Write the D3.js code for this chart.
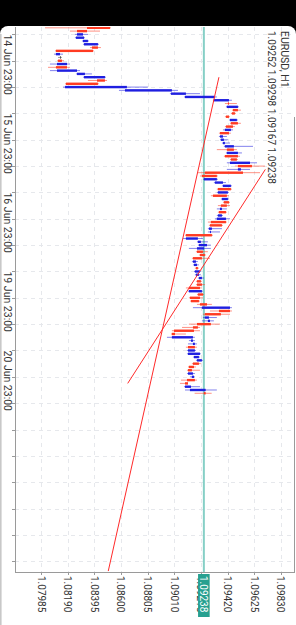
<!DOCTYPE html>
<html><head><meta charset="utf-8">
<script src="https://cdn.jsdelivr.net/npm/d3@7"></script>
<style>
html,body{margin:0;padding:0;background:#000;overflow:hidden}
svg{display:block;font-family:Roboto,"Noto Sans",sans-serif}
</style></head><body>
<svg id="chart"></svg>
<script>
// EURUSD H1, drawn rotated (time runs down the screen, price grows to the right)
const symbol='EURUSD, H1';
const firstBar=-2; // bar 0 = 14 Jun 23:00
const timeLabels=['14 Jun 23:00','15 Jun 23:00','16 Jun 23:00','19 Jun 23:00','20 Jun 23:00'];
const timeLabelBars=[0,24,48,72,96];
const priceTicks=[1.07985,1.08190,1.08395,1.08600,1.08805,1.09010,1.09215,1.09420,1.09625,1.09830];
const lastPrice=1.09238;
const opens=[1.08516,1.08339,1.08262,1.08254,1.08308,1.08316,1.08423,1.08385,1.08100,1.08131,1.08146,1.08108,1.08185,1.08108,1.08262,1.08316,1.08477,1.08423,1.08170,1.08631,
1.08985,1.09093,1.09315,1.09431,1.09415,1.09500,1.09477,1.09431,1.09439,1.09500,1.09462,1.09400,1.09431,1.09362,1.09369,1.09385,1.09400,1.09469,1.09415,1.09500,
1.09492,1.09439,1.09608,1.09500,1.09539,1.09338,1.09239,1.09323,1.09385,1.09446,1.09346,1.09415,1.09377,1.09431,1.09415,1.09362,1.09408,1.09346,1.09338,1.09408,
1.09377,1.09277,1.09285,1.09300,1.09100,1.09192,1.09200,1.09185,1.09231,1.09246,1.09223,1.09154,1.09162,1.09192,1.09169,1.09177,1.09200,1.09215,1.09223,1.09208,
1.09123,1.09231,1.09208,1.09200,1.09262,1.09223,1.09439,1.09369,1.09246,1.09269,1.09292,1.09192,1.09162,1.09016,1.08992,1.09139,1.09154,1.09169,1.09116,1.09116,
1.09162,1.09185,1.09200,1.09162,1.09146,1.09116,1.09146,1.09169,1.09116,1.09093,1.09131,1.09252];
const highs=[1.08523,1.08439,1.08346,1.08323,1.08354,1.08431,1.08446,1.08393,1.08154,1.08146,1.08162,1.08208,1.08208,1.08285,1.08377,1.08485,1.08493,1.08431,1.08808,1.09039,
1.09208,1.09338,1.09454,1.09492,1.09508,1.09523,1.09485,1.09439,1.09500,1.09523,1.09477,1.09462,1.09446,1.09415,1.09423,1.09439,1.09616,1.09492,1.09531,1.09516,
1.09500,1.09647,1.09708,1.09593,1.09670,1.09346,1.09346,1.09408,1.09454,1.09454,1.09431,1.09431,1.09431,1.09439,1.09439,1.09415,1.09415,1.09385,1.09439,1.09415,
1.09385,1.09377,1.09362,1.09308,1.09231,1.09269,1.09292,1.09292,1.09269,1.09254,1.09285,1.09192,1.09200,1.09200,1.09215,1.09215,1.09239,1.09223,1.09246,1.09223,
1.09231,1.09239,1.09231,1.09208,1.09300,1.09454,1.09454,1.09439,1.09338,1.09315,1.09362,1.09208,1.09208,1.09100,1.09169,1.09169,1.09185,1.09185,1.09177,1.09215,
1.09208,1.09231,1.09215,1.09177,1.09208,1.09169,1.09169,1.09185,1.09116,1.09208,1.09338,1.09298];
const lows=[1.08016,1.08208,1.08246,1.08246,1.08300,1.08308,1.08362,1.08093,1.08085,1.08116,1.08108,1.08054,1.08039,1.08054,1.08254,1.08308,1.08346,1.08170,1.08154,1.08585,
1.08977,1.09085,1.09308,1.09400,1.09408,1.09454,1.09446,1.09400,1.09431,1.09439,1.09400,1.09385,1.09354,1.09354,1.09362,1.09377,1.09392,1.09338,1.09408,1.09392,
1.09439,1.09415,1.09477,1.09415,1.09192,1.09208,1.09231,1.09315,1.09377,1.09338,1.09338,1.09292,1.09369,1.09385,1.09346,1.09338,1.09346,1.09338,1.09323,1.09269,
1.09277,1.09269,1.09269,1.09093,1.09077,1.09185,1.09192,1.09123,1.09177,1.09200,1.09146,1.09146,1.09154,1.09169,1.09162,1.09169,1.09192,1.09177,1.09177,1.09100,
1.09116,1.09185,1.09123,1.09131,1.09185,1.09154,1.09285,1.09231,1.09231,1.09223,1.09123,1.09070,1.08992,1.08985,1.08954,1.09123,1.09116,1.09100,1.09108,1.09108,
1.09154,1.09177,1.09146,1.09116,1.09108,1.09108,1.09131,1.09062,1.09054,1.09085,1.09093,1.09167];
const closes=[1.08339,1.08262,1.08308,1.08316,1.08346,1.08423,1.08377,1.08100,1.08131,1.08131,1.08116,1.08185,1.08100,1.08262,1.08323,1.08477,1.08416,1.08177,1.08646,1.08992,
1.09100,1.09323,1.09431,1.09423,1.09500,1.09462,1.09454,1.09408,1.09492,1.09446,1.09408,1.09446,1.09362,1.09385,1.09392,1.09400,1.09469,1.09415,1.09500,1.09400,
1.09446,1.09593,1.09500,1.09523,1.09246,1.09223,1.09338,1.09385,1.09446,1.09346,1.09423,1.09308,1.09423,1.09392,1.09369,1.09377,1.09354,1.09377,1.09408,1.09292,
1.09285,1.09300,1.09292,1.09100,1.09192,1.09215,1.09262,1.09239,1.09185,1.09208,1.09154,1.09177,1.09185,1.09177,1.09208,1.09200,1.09223,1.09185,1.09185,1.09123,
1.09223,1.09192,1.09131,1.09139,1.09208,1.09439,1.09354,1.09246,1.09277,1.09285,1.09185,1.09154,1.09008,1.08992,1.09154,1.09154,1.09169,1.09116,1.09169,1.09208,
1.09200,1.09223,1.09154,1.09123,1.09116,1.09154,1.09162,1.09108,1.09093,1.09139,1.09252,1.09238];
// trend lines: [bar, price] anchors; ray=true keeps going after the 2nd anchor
const trendA=[[13,1.09354],[78,1.08985]];
const trendB=[[41,1.09711],[106,1.08652]];

const W=296,H=625;
const plot={left:15,right:295,top:27,bottom:572};
const svg=d3.select('#chart').attr('width',W).attr('height',H);
const x=d3.scaleLinear().domain([priceTicks[0],priceTicks[priceTicks.length-1]]).range([41,280.8]);
const y=d3.scaleLinear().domain([0,160]).range([34.4,561.2]);
const bars=opens.map((o,i)=>({i:i+firstBar,o,h:highs[i],l:lows[i],c:closes[i]}));
const bull='#1f1fe0', bear='#ff3b22';
const col=d=>d.c>d.o?bull:(d.c<d.o?bear:'#555');

svg.append('rect').attr('width',W).attr('height',H).attr('fill','#000');
svg.append('rect').attr('x',0).attr('y',26).attr('width',W).attr('height',H).attr('rx',8).attr('fill','#fff');
svg.append('rect').attr('x',0).attr('y',34).attr('width',1.6).attr('height',H).attr('fill','#c8c8c8');

svg.append('defs').append('clipPath').attr('id','clip').append('rect')
  .attr('x',plot.left).attr('y',plot.top).attr('width',plot.right-plot.left).attr('height',plot.bottom-plot.top);

// grid
const grid=svg.append('g').attr('stroke','#e6e8ec').attr('stroke-dasharray','4,4').attr('stroke-width',1);
grid.selectAll('.gx').data(priceTicks).enter().append('line')
  .attr('x1',d=>Math.round(x(d))+.5).attr('x2',d=>Math.round(x(d))+.5).attr('y1',plot.top).attr('y2',plot.bottom);
grid.selectAll('.gy').data(d3.range(0,161,8)).enter().append('line')
  .attr('y1',d=>Math.round(y(d))+.5).attr('y2',d=>Math.round(y(d))+.5).attr('x1',plot.left).attr('x2',plot.right);

const g=svg.append('g').attr('clip-path','url(#clip)');
// bid line
g.append('line').attr('x1',x(lastPrice)).attr('x2',x(lastPrice)).attr('y1',plot.top).attr('y2',plot.bottom)
  .attr('stroke','#86cfc6').attr('stroke-width',2);

// candles
g.selectAll('.wick').data(bars).enter().append('line')
  .attr('x1',d=>x(d.l)).attr('x2',d=>x(d.h)).attr('y1',d=>y(d.i)).attr('y2',d=>y(d.i))
  .attr('stroke',col).attr('stroke-width',1).attr('opacity',.55);
g.selectAll('.body').data(bars).enter().append('rect')
  .attr('x',d=>x(Math.min(d.o,d.c))).attr('width',d=>Math.max(1,Math.abs(x(d.c)-x(d.o))))
  .attr('y',d=>y(d.i)-1.2).attr('height',2.4).attr('fill',col);

// trend lines
const lineFor=(t,ray)=>{
  const [a,b]=t, end=ray?163:b[0];
  const k=(b[1]-a[1])/(b[0]-a[0]);
  return [[x(a[1]),y(a[0])],[x(a[1]+k*(end-a[0])),y(end)]];
};
g.selectAll('.trend').data([lineFor(trendA,true),lineFor(trendB,false)]).enter().append('path')
  .attr('d',d3.line()).attr('fill','none').attr('stroke','#ff2a2a').attr('stroke-width',1);

// axes
const ax=svg.append('g').attr('stroke','#9a9a9a').attr('stroke-width',1);
ax.append('line').attr('x1',plot.left+.5).attr('x2',plot.left+.5).attr('y1',plot.top).attr('y2',plot.bottom);
ax.append('line').attr('x1',plot.left).attr('x2',plot.right).attr('y1',plot.bottom+.5).attr('y2',plot.bottom+.5);
ax.append('line').attr('x1',plot.right-.5).attr('x2',plot.right-.5).attr('y1',plot.top+90).attr('y2',plot.bottom);
ax.selectAll('.tx').data(priceTicks).enter().append('line')
  .attr('x1',d=>Math.round(x(d))+.5).attr('x2',d=>Math.round(x(d))+.5).attr('y1',plot.bottom).attr('y2',plot.bottom+3);
ax.selectAll('.ty').data(d3.range(0,161,8)).enter().append('line')
  .attr('y1',d=>Math.round(y(d))+.5).attr('y2',d=>Math.round(y(d))+.5).attr('x1',plot.left-3).attr('x2',plot.left);

const rot=(sel)=>sel.attr('text-anchor','start').attr('dominant-baseline','central');
rot(svg.selectAll('.pl').data(priceTicks).enter().append('text')
  .attr('transform',d=>`translate(${x(d)},576) rotate(90)`)
  .attr('font-size',10).attr('fill','#333').text(d=>d.toFixed(5)));
rot(svg.selectAll('.tl').data(timeLabelBars).enter().append('text')
  .attr('transform',d=>`translate(7.5,${y(d)}) rotate(90)`)
  .attr('font-size',10.5).attr('fill','#333').text((d,i)=>timeLabels[i]));

// last price tag
svg.append('rect').attr('x',x(lastPrice)-5.8).attr('y',574).attr('width',11.6).attr('height',43).attr('fill','#27a090');
rot(svg.append('text').attr('transform',`translate(${x(lastPrice)},576) rotate(90)`)
  .attr('font-size',10).attr('fill','#fff').text(lastPrice.toFixed(5)));

// header
const last=bars[bars.length-1];
rot(svg.append('text').attr('transform','translate(284.5,31) rotate(90)').attr('font-size',10.5).attr('fill','#333').text(symbol));
rot(svg.append('text').attr('transform','translate(271,31) rotate(90)').attr('font-size',10).attr('fill','#333')
  .text([last.o,last.h,last.l,last.c].map(v=>v.toFixed(5)).join(' ')));
</script>
</body></html>
